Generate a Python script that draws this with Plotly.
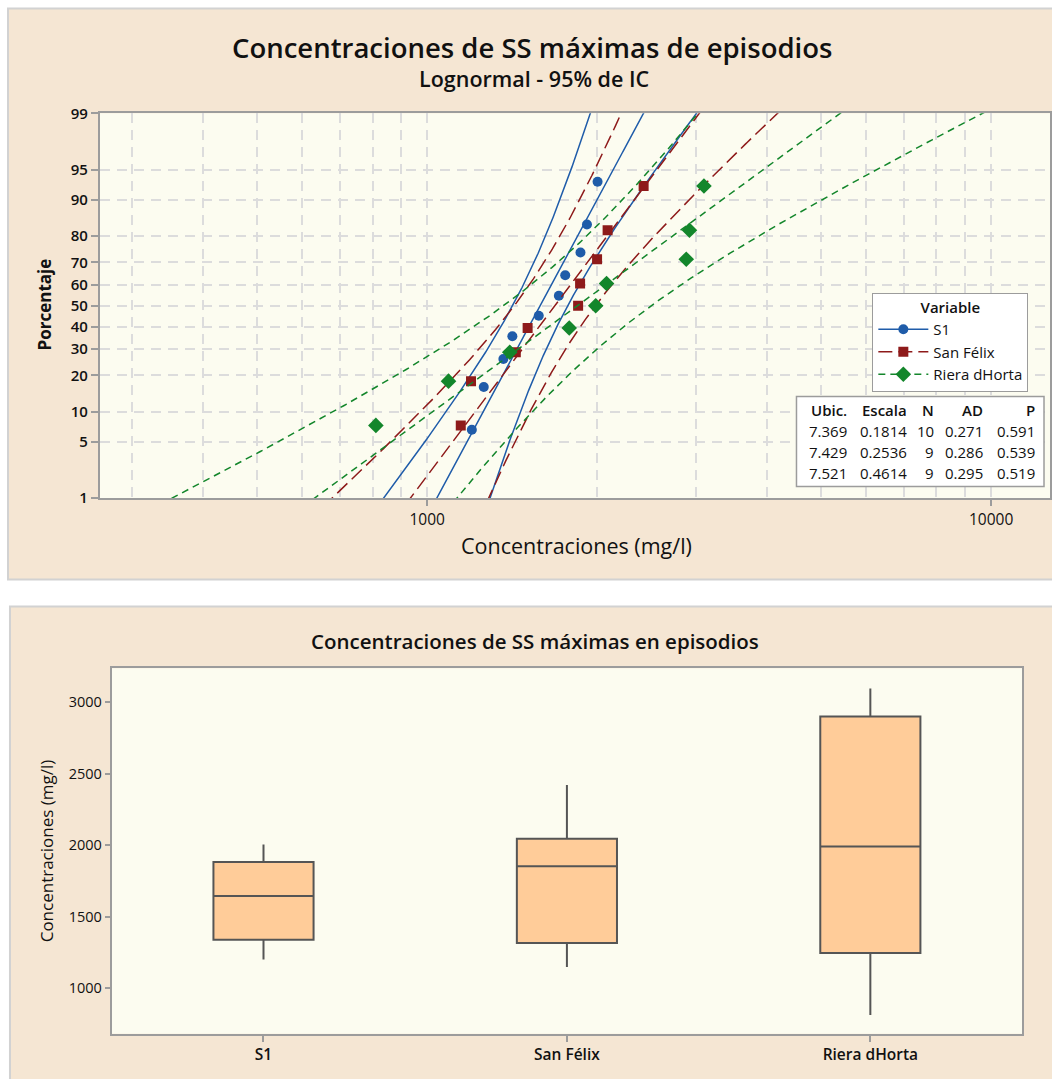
import numpy as np
import plotly.graph_objects as go
from statistics import NormalDist

W, H = 1052, 1079
# vertical placement of the graph inside the photographed page
Y_OFF, Y_SCALE = 10.4, 0.9817
FONT = "Open Sans, Noto Sans, DejaVu Sans, sans-serif"

# ---- data -------------------------------------------------------------
series_names = ["S1", "San Félix", "Riera dHorta"]

# maximum SS concentration per episode (mg/l)
s1_vals = [1200, 1260, 1365, 1416, 1577, 1712, 1757, 1870, 1920, 2005]
sanfelix_vals = [1147, 1196, 1436, 1507, 1852, 1867, 2001, 2089, 2420]
riera_vals = [811, 1091, 1401, 1786, 1990, 2080, 2880, 2918, 3096]

# plotting positions (%) of the ordered samples
s1_pct = [6.7, 16.3, 26.0, 35.6, 45.2, 54.8, 64.4, 74.0, 83.7, 93.3]
n9_pct = [7.4, 18.1, 28.7, 39.4, 50.0, 60.6, 71.3, 81.9, 92.6]

# lognormal fit summary table
ubic = [7.369, 7.429, 7.521]
escala = [0.1814, 0.2536, 0.4614]
n_obs = [10, 9, 9]
ad_stat = [0.271, 0.286, 0.295]
p_val = [0.591, 0.539, 0.519]

pct_ticks = [1, 5, 10, 20, 30, 40, 50, 60, 70, 80, 90, 95, 99]
conc_ticks = [1000, 10000]
conc_minor = [300, 400, 500, 600, 700, 800, 900,
              2000, 3000, 4000, 5000, 6000, 7000, 8000, 9000]
box_ticks = [1000, 1500, 2000, 2500, 3000]

# ---- styling ----------------------------------------------------------
colors = ["#1F5CA9", "#8E1A1A", "#13862B"]
symbols = ["circle", "square", "diamond"]
msizes = [10, 10, 12]
dashes = ["solid", "14px,6px", "7px,5px"]
BEIGE = "#F5E6D3"
IVORY = "#FCFCF0"
FRAME = "#9C9C9C"
GRID = "#DCDCDC"
TXT = "#111111"


def px(x):
    return x / W


def py(y):
    return 1 - ((y - Y_OFF) / Y_SCALE) / H


nd = NormalDist()


def zq(p):
    return nd.inv_cdf(p / 100.0)


fig = go.Figure()

# ---- probability plot -------------------------------------------------
samples = [s1_vals, sanfelix_vals, riera_vals]
positions = [s1_pct, n9_pct, n9_pct]
zc = nd.inv_cdf(0.975)
zgrid = np.linspace(-2.6, 2.6, 300)

for i, name in enumerate(series_names):
    mu, sg, n = ubic[i], escala[i], n_obs[i]
    centre = mu + zgrid * sg
    half = zc * sg * np.sqrt((1 + zgrid ** 2 / 2) / n)
    for curve in (centre - half, centre, centre + half):
        fig.add_trace(go.Scatter(
            x=np.exp(curve), y=zgrid, mode="lines",
            line=dict(color=colors[i], width=1.5, dash=dashes[i]),
            showlegend=False, hoverinfo="skip", xaxis="x", yaxis="y"))
    fig.add_trace(go.Scatter(
        x=sorted(samples[i]), y=[zq(p) for p in positions[i]],
        mode="markers",
        marker=dict(symbol=symbols[i], size=msizes[i], color=colors[i]),
        showlegend=False, xaxis="x", yaxis="y"))
    # legend sample (line + marker)
    fig.add_trace(go.Scatter(
        x=[None], y=[None], mode="lines+markers", name=name,
        line=dict(color=colors[i], width=1.5, dash=dashes[i]),
        marker=dict(symbol=symbols[i], size=msizes[i], color=colors[i]),
        xaxis="x", yaxis="y"))

# ---- box plot ---------------------------------------------------------


def box_stats(v):
    a = np.sort(np.asarray(v, dtype=float))
    q1, med, q3 = np.percentile(a, [25, 50, 75], method="weibull")
    iqr = q3 - q1
    lo = a[a >= q1 - 1.5 * iqr].min()
    hi = a[a <= q3 + 1.5 * iqr].max()
    return q1, med, q3, lo, hi


stats = [box_stats(v) for v in samples]
fig.add_trace(go.Box(
    x=series_names,
    q1=[s[0] for s in stats], median=[s[1] for s in stats],
    q3=[s[2] for s in stats], lowerfence=[s[3] for s in stats],
    upperfence=[s[4] for s in stats],
    fillcolor="#FFCC99", line=dict(color="#555555", width=2),
    whiskerwidth=0, width=0.33, boxpoints=False,
    showlegend=False, xaxis="x2", yaxis="y2"))

# ---- panels -----------------------------------------------------------
shapes = [
    dict(type="rect", xref="paper", yref="paper", layer="below",
         x0=px(8), x1=px(1070), y0=py(579), y1=py(8),
         fillcolor=BEIGE, line=dict(color="#D2D2D2", width=2)),
    dict(type="rect", xref="paper", yref="paper", layer="below",
         x0=px(10), x1=px(1070), y0=py(1120), y1=py(606),
         fillcolor=BEIGE, line=dict(color="#D2D2D2", width=2)),
    dict(type="rect", xref="x domain", yref="y domain", layer="below",
         x0=0, x1=1, y0=0, y1=1, fillcolor=IVORY, line=dict(width=0)),
    dict(type="rect", xref="x2 domain", yref="y2 domain", layer="below",
         x0=0, x1=1, y0=0, y1=1, fillcolor=IVORY, line=dict(width=0)),
    # statistics table frame
    dict(type="rect", xref="paper", yref="paper",
         x0=px(798), x1=px(1046), y0=py(486), y1=py(396),
         fillcolor="white", line=dict(color=FRAME, width=1.5)),
]

annotations = []


def label(x, y, text, size, weight=400, anchor="center", angle=0):
    annotations.append(dict(
        x=px(x), y=py(y), xref="paper", yref="paper", text=text,
        showarrow=False, xanchor=anchor, yanchor="middle", textangle=angle,
        font=dict(family=FONT, size=size, color=TXT, weight=weight)))


label(533, 47, "Concentraciones de SS máximas de episodios", 27.5, 600)
label(535, 78, "Lognormal - 95% de IC", 21.5, 600)
label(45, 304, "Porcentaje", 17, 700, angle=-90)
label(578, 545, "Concentraciones (mg/l)", 21.5, 400)
label(536, 641, "Concentraciones de SS máximas en episodios", 20.5, 600)
label(46, 850, "Concentraciones (mg/l)", 17, 400, angle=-90)

# statistics table
col_right = [851, 911, 938, 987, 1039]
row_y = [409, 431, 452, 473]
headers = ["Ubic.", "Escala", "N", "AD", "P"]
for c, htxt in enumerate(headers):
    label(col_right[c], row_y[0], htxt, 15, 600, anchor="right")
for r in range(3):
    cells = [f"{ubic[r]:.3f}", f"{escala[r]:.4f}", f"{n_obs[r]}",
             f"{ad_stat[r]:.3f}", f"{p_val[r]:.3f}"]
    for c, t in enumerate(cells):
        label(col_right[c], row_y[r + 1], t, 15, 400, anchor="right")

axis_common = dict(showline=True, linecolor=FRAME, linewidth=2, mirror=True,
                   zeroline=False, ticks="outside", tickcolor=FRAME,
                   tickwidth=1.5)

fig.update_layout(
    width=W, height=H, autosize=False,
    margin=dict(l=0, r=0, t=0, b=0),
    paper_bgcolor="white", plot_bgcolor=IVORY,
    font=dict(family=FONT, color=TXT),
    shapes=shapes, annotations=annotations,
    xaxis=dict(
        **axis_common, type="log", range=[2.4195, 4.1044],
        domain=[px(100), 1.0], anchor="y",
        tickvals=conc_ticks, ticktext=[str(v) for v in conc_ticks],
        ticklen=6, tickfont=dict(size=15.5),
        showgrid=True, gridcolor=GRID, gridwidth=1.5, griddash="10px,7px",
        minor=dict(tickvals=conc_minor, showgrid=True, gridcolor=GRID,
                   gridwidth=1.5, griddash="10px,7px", ticks="")),
    yaxis=dict(
        **axis_common, range=[zq(1), zq(99)],
        domain=[py(497.7), py(112.7)], anchor="x",
        tickvals=[zq(p) for p in pct_ticks],
        ticktext=[str(p) for p in pct_ticks],
        ticklen=7, tickfont=dict(size=15, weight=600),
        showgrid=True, gridcolor=GRID, gridwidth=1.5, griddash="10px,7px"),
    xaxis2=dict(
        **axis_common, type="category", range=[-0.5, 2.5],
        domain=[px(112), px(1024)], anchor="y2",
        ticklen=6, tickfont=dict(size=15.5, weight=600), showgrid=False),
    yaxis2=dict(
        **axis_common, range=[681, 3238],
        domain=[py(1033.3), py(667.7)], anchor="x2",
        tickvals=box_ticks, ticklen=5, tickfont=dict(size=14.5),
        showgrid=False),
    legend=dict(
        x=px(874), y=py(292), xanchor="left", yanchor="top",
        bgcolor="white", bordercolor=FRAME, borderwidth=1,
        font=dict(family=FONT, size=15, color=TXT),
        title=dict(text="Variable", side="top center",
                   font=dict(size=15, weight=600)),
        tracegroupgap=0, itemwidth=50),
)

fig.write_html("out.html")
